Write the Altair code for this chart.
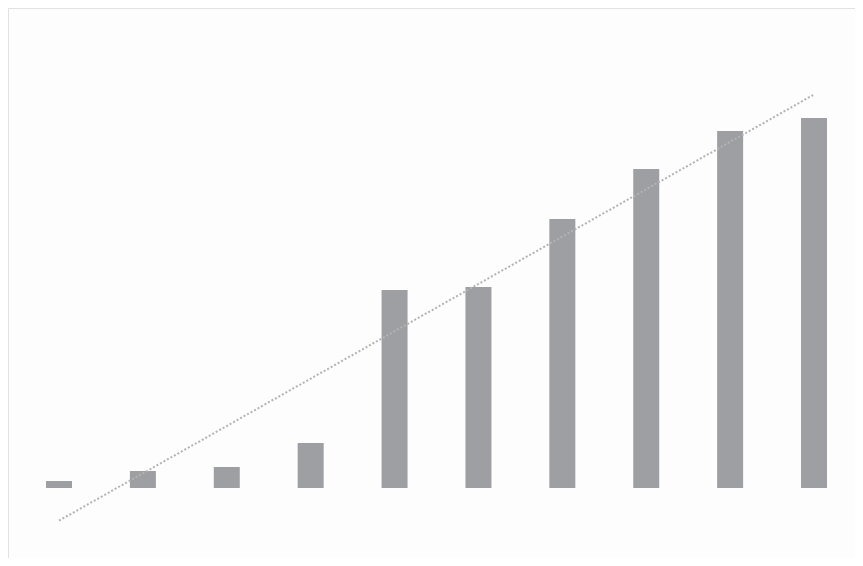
import altair as alt
import pandas as pd

categories = [1, 2, 3, 4, 5, 6, 7, 8, 9, 10]
values = [7, 17, 21, 45, 198, 201, 269, 319, 357, 370]

df = pd.DataFrame({"x": categories, "v": values})

W = 847
H = 550
xs = alt.Scale(domain=[0.392, 0.392 + W / 83.89], nice=False, zero=False, padding=0)
ys = alt.Scale(domain=[480 - H, 480], nice=False, zero=False, padding=0)

base = alt.Chart(df)

bars = base.mark_bar(color="#9e9fa3", size=26).encode(
    x=alt.X("x:Q", scale=xs, axis=None),
    y=alt.Y("v:Q", scale=ys, axis=None),
    y2=alt.datum(0),
)

trend = base.transform_regression("x", "v").mark_line(
    color="#b3b3b3", strokeWidth=2, strokeDash=[2, 2]
).encode(
    x=alt.X("x:Q", scale=xs, axis=None),
    y=alt.Y("v:Q", scale=ys, axis=None),
)

top_border = alt.Chart(df).mark_rule(color="#e2e2e2", strokeWidth=1).encode(
    x=alt.value(0), x2=alt.value(W), y=alt.value(0.5)
)
left_border = alt.Chart(df).mark_rule(color="#e2e2e2", strokeWidth=1).encode(
    x=alt.value(0.5), y=alt.value(0), y2=alt.value(H)
)

chart = alt.layer(bars, trend, top_border, left_border).properties(
    width=W,
    height=H,
    padding=0,
    autosize=alt.AutoSizeParams(type="none"),
    background="#fdfdfd",
).configure_view(stroke=None)

chart.save("out.html", embed_options={"renderer": "svg", "actions": False})
